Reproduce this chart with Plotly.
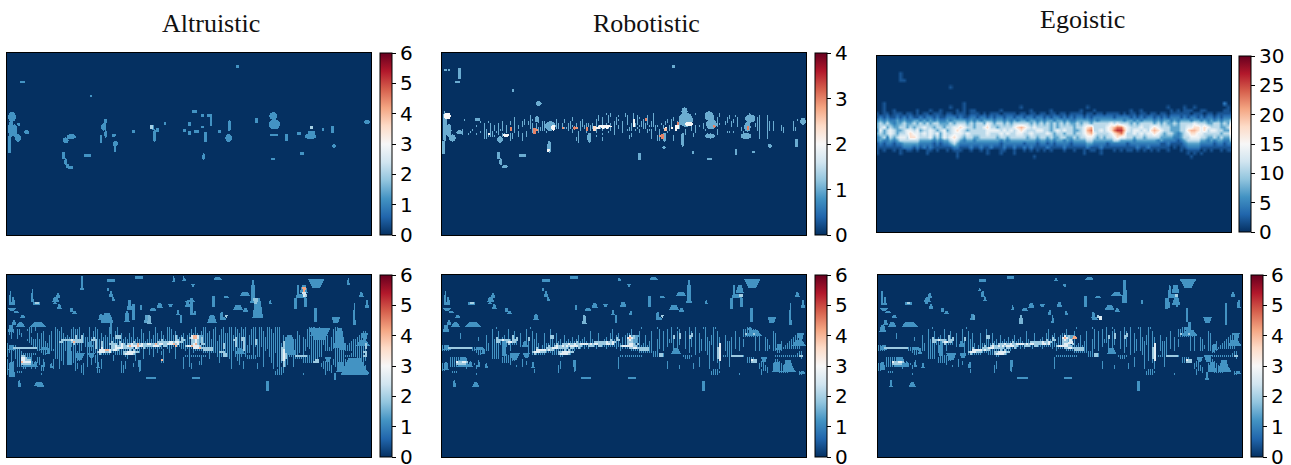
import numpy as np
import plotly.graph_objects as go

TITLES = ["Altruistic", "Robotistic", "Egoistic"]
TICKS_A = [0, 1, 2, 3, 4, 5, 6]
TICKS_R = [0, 1, 2, 3, 4]
TICKS_E = [0, 5, 10, 15, 20, 25, 30]

# Patches: x0, x1, y0, y1, value (axis units)
ALTRUISTIC_TOP = [
 (24,46,338,365,1.2),(24,40,365,410,1.2),(36,50,375,410,1.2),(44,62,405,425,1.2),(24,30,410,460,1.2),
 (50,60,370,378,1.2),(72,86,392,404,1.2),(62,72,246,250,1.2),(270,275,287,291,1.2),(710,716,197,204,1.2),
 (188,204,414,430,1.2),(200,226,404,418,1.2),(188,192,460,478,1.2),(192,200,476,496,1.2),(200,206,496,504,1.2),
 (206,218,502,506,1.2),(252,272,465,470,1.2),(302,318,372,392,1.2),(310,320,358,372,1.2),(312,320,392,414,1.2),
 (298,306,406,430,1.2),(334,346,402,412,1.2),(338,352,425,440,1.2),(340,348,440,458,1.2),(396,402,393,398,1.2),
 (452,462,376,390,1.2),(458,468,390,426,1.2),(470,476,388,396,1.2),(492,497,370,376,1.2),(576,588,334,339,1.2),
 (550,556,390,395,1.2),(564,570,395,406,1.2),(566,570,370,378,1.2),(584,594,393,398,1.2),(602,610,378,386,1.2),
 (604,610,344,350,1.2),(622,634,346,352,1.2),(628,636,352,380,1.2),(614,620,400,425,1.2),(656,660,392,398,1.2),
 (682,692,362,394,1.2),(676,694,404,426,1.2),(606,614,462,480,1.2),(766,772,358,370,1.2),(808,830,338,360,1.2),
 (806,838,360,388,1.2),(810,834,402,410,1.2),(856,862,404,424,1.2),(812,824,474,482,1.2),(892,902,400,406,1.2),
 (914,946,402,418,1.2),(926,944,396,402,1.2),(930,938,380,388,1.2),(994,1000,380,400,1.2),(996,1006,432,446,1.2),
 (966,970,388,392,1.2),(1092,1108,360,374,1.2),(900,910,460,466,1.2),(452,458,378,386,2),(932,938,382,388,2),
]
ROBOTISTIC_TOP = [
 (24,36,338,425,1),(36,50,375,410,1),(44,62,405,425,1),(24,30,425,462,1),(28,48,340,358,2),(30,36,210,214,1),
 (42,46,210,214,1),(72,78,208,236,1),(62,74,246,250,1),(234,238,270,275,1),(304,320,305,318,1),(124,136,358,364,1),
 (66,84,392,404,1),(188,204,410,428,1),(205,222,402,412,2),(228,232,384,394,3),(296,302,388,402,3),(300,314,350,368,1),
 (332,362,366,392,1),(350,362,376,392,2),(338,350,425,458,1),(336,346,448,456,2),(416,424,380,390,3),(455,460,384,392,3),
 (458,470,400,428,1),(478,484,380,392,2.4),(490,530,376,384,2),(630,634,356,364,3),(688,692,386,392,2.6),(680,692,400,425,1),
 (678,684,406,416,3),(726,730,370,376,3),(730,770,340,380,1),(738,755,324,345,1),(750,772,366,380,2),(736,746,400,440,1),
 (808,832,336,362,1),(812,842,360,388,1),(832,840,376,384,3),(810,838,402,416,1),(930,958,345,368,1),(926,944,368,395,1),
 (936,940,380,390,3),(916,946,400,418,1),(996,1008,432,444,1),(1080,1086,420,440,1),(1094,1110,355,374,1),(610,616,462,480,1),
 (815,828,474,482,1),(770,775,456,462,1),(680,690,440,448,1),(712,716,197,204,1),(254,274,465,470,1),(190,194,458,478,1),
 (194,202,476,496,1),(202,218,496,506,1),(950,956,455,460,1),(900,904,450,465,1),
]
# Fine texture of the Robotistic band, one row per six axis units downward from its top
ROBOTISTIC_TOP_Y = 340
ROBOTISTIC_ROWS = [
 "0000000000 0000000000 0000000000 0000000000 0000000000 0000000000 0000000000 0000000000 0010100000 0100010000 0000010000 0000000000 0000001000 0000000010 0000000000 0001000000 0000000000 0000000000",
 "0000000000 0000000000 0000000000 0000000000 0000100000 0000000000 0000000000 0000000010 0001100010 0110010100 0010010000 0000000000 0000000000 0000010010 0001001000 0010000010 0010000000 0000000000",
 "0000000000 0000000000 0000000000 0000001000 0000100010 0000000000 0000010000 0000000010 1001000100 0010010110 0010010000 0000010000 0010000000 0001010100 0011000100 0010000110 0010000000 0000000000",
 "0000000000 0100000000 0000000000 0000001000 0100110010 0000000100 0100010000 1000000110 1001000110 0010020100 1010010000 0010110000 0010000000 0001110100 0010010100 0010000110 0010000000 0000000100",
 "0000000000 0000000001 0001000000 1000101000 1101100010 1100000100 0100100001 1000000100 1001001100 1010020101 1010110000 0110100100 0000000000 0001010100 0110110100 0011000110 0011010000 0000010000",
 "0000000000 0000000000 0100100010 1000101000 1101110100 1101001110 1001100101 1011010100 1010101100 1010121101 1110110001 0100100110 0000100000 1001010110 0100100100 0011001110 0011010000 0000010000",
 "0010000000 0000000100 0100101010 1010001010 1000110100 1111011110 1001110101 1111110111 0110101010 1000121011 1101111100 1001102210 0010101010 1011010100 0000100100 0011001110 0011010001 0000010000",
 "0110000000 0000000000 0100101010 1010101010 0000110111 1111001110 3111100301 0130110221 2121101010 1001100100 1100001000 1201202210 0000101000 1001010000 0000000001 0011000110 0011010001 1000011000",
 "0101000000 1000010000 0110101011 1010101000 0000010311 1101000000 0001010001 0010100100 1000101000 1011101010 0011101010 0001002000 0100101000 0100000100 0000000001 0011000110 0011010001 1000011000",
 "0110000000 0000100001 0110110110 0010001010 0010013010 0010000000 0000010010 0010000100 0001001000 1000000010 0010100010 0010000000 0100001000 0000000100 0011010000 1000000010 0010000000 1000000000",
 "0010000000 1001000100 0112110010 1100110010 1010000000 0000000000 0000000010 0000000000 1000001000 0000100000 0000100010 0000000000 0100010000 0010000100 0000000000 0000000010 0010000000 0000000000",
 "0001000000 0000000000 0111111000 1100110010 1010000000 0000000000 0000000010 0000000100 0000000000 0001100000 0000100130 0000010000 0000010000 0000000000 0000000000 0000000010 0010000000 0000000000",
 "0000000000 0000000000 0110000000 0000110000 1000000000 0000000000 0000000110 0000000000 1000000000 0001000000 0000100110 0000010000 0000000000 0000000000 0000000000 0000000010 0010000000 0000000000",
 "0000000000 0000000000 0000000000 0000100000 1000000000 0000000000 0000000110 0000000000 1000000000 0000000000 0000000110 0000010000 0000000000 0000000000 0000000000 0000000000 0000000000 0000000000",
 "0000000000 0000000000 0000000000 0000000000 0000000000 0000000000 0000000010 0000000000 0000000000 0000000000 0000000000 0000000000 0000000000 0000000000 0000000000 0000000000 0000000000 0000000000",
]
ROBOTISTIC_VALUES = [0, 1, 2, 2.9, 3.2]
# Shared by all three lower panels (x as in the middle panel)
LOWER_COMMON = [
 (28,36,78,120,1.2),(36,46,95,120,1.2),(25,50,130,137,1.2),(40,60,137,145,1.2),(60,78,150,160,1.2),(36,50,165,180,1.2),
 (50,75,172,185,1.2),(90,140,170,186,1.2),(102,120,112,118,1.2),(108,116,113,117,2),(158,178,95,110,1.2),
 (168,182,85,100,1.2),(160,172,110,118,1.2),(172,186,118,132,1.2),(212,218,130,140,1.2),(218,232,138,146,1.2),(296,312,148,165,1.2),
 (324,344,44,50,1.2),(320,330,70,78,1.2),(328,340,78,95,1.2),(336,346,95,108,1.2),(408,428,34,40,1.2),(548,560,40,48,1.2),
 (640,668,36,46,1.2),(420,428,120,135,1.2),(450,470,128,138,1.2),(470,490,115,130,1.2),(505,520,118,126,1.2),(442,456,150,178,1.6),
 (530,540,135,150,1.2),(540,548,150,175,1.2),(556,572,112,126,1.2),(575,585,58,66,1.2),(580,590,138,150,1.2),(640,646,95,125,1.2),
 (660,672,140,160,1.2),(670,690,92,100,1.2),(660,680,155,165,1.2),(675,685,150,158,2),(700,730,120,135,1.2),(730,745,130,140,1.2),
 (720,752,80,92,1.2),(752,768,45,115,1.2),(808,816,105,118,1.2),(890,900,60,95,1.2),(900,925,60,85,1.2),(925,975,42,68,1.2),
 (890,920,88,98,1.2),(912,920,90,96,2),(884,890,100,130,1.2),(915,920,100,125,1.2),(1060,1068,115,180,1.2),(1096,1108,105,130,1.2),
 (1078,1092,82,95,1.2),(995,1022,155,175,1.2),(945,950,130,170,1.2),(26,48,240,254,1.2),(120,150,245,256,1.2),
 (140,152,250,268,1.2),(26,42,290,316,1.2),(68,104,275,305,1.2),(100,114,290,305,1.2),
 (128,136,285,305,1.2),(150,160,295,310,1.2),(54,64,346,366,1.2),(112,134,352,366,1.2),(202,216,222,272,1.2),
 (262,280,228,246,1.2),(225,255,265,284,1.2),(265,285,265,280,1.2),(290,300,290,308,1.2),
 (585,610,210,235,1.4),(706,736,250,268,1.2),(930,980,196,214,1.2),(936,950,185,196,1.2),
 (975,995,275,290,1.2),(1020,1040,238,256,1.2),(1070,1110,225,242,1.2),(1085,1105,205,225,1.2),
 (1040,1075,285,320,1.2),(1010,1035,290,320,1.2),(1060,1080,310,320,1.2),(1090,1110,318,328,1.2),(415,425,285,322,1.2),
 (440,468,338,342,1.2),(580,600,338,342,1.2),(800,806,350,376,1.2),(24,44,180,200,1.2),
]
ALTRUISTIC_EXTRA = [
 (240,250,33,76,1.2),(516,524,33,52,1.2),(546,554,33,48,1.2),(92,100,72,110,1.2),(756,788,98,158,1.2),(757,775,98,118,1.8),
 (905,918,65,80,4.2),(905,918,80,96,2.5),(398,402,120,165,1.2),(372,388,138,172,1.2),(570,576,100,150,1.2),(552,588,104,112,1.2),
 (26,44,290,335,1.2),(300,340,145,175,1.2),(380,395,105,135,1.2),(330,335,175,205,1.2),(430,450,150,175,1.4),(620,650,150,175,1.2),
 (1040,1048,40,60,1.2),(200,214,222,300,1.2),(100,130,352,362,1.2),(1000,1008,325,345,1.2),(925,990,190,225,1.2),(1000,1035,190,250,1.2),
 (1020,1105,280,330,1.2),(850,885,210,270,1.2),
]
EGOISTIC_EXTRA = [
 (620,636,212,222,4.2),(608,624,222,236,2.6),(704,708,155,165,2.6),(322,330,150,165,1.4),(462,470,150,176,1.6),
 (900,915,100,130,1.2),(920,945,95,120,1.2),(1015,1040,270,290,1.2),(1040,1048,240,260,1.2),(1020,1030,320,345,1.2),
 (435,442,285,320,1.2),(964,980,170,210,1.2),
]
BAND_VALUES = [0, 1.2, 1.9, 2.7, 4]
BAND_TOP = 186
# Fine band texture of the lower panels, one row per six axis units downward
BAND_ROWS_COMMON = [
 "0000000000 0000000000 0000000100 0000000000 0000100000 0000000000 0000000000 0000000000 0000000000 0000000001 0000000100 0000100100 0001001000 1100011000 0000000000 0011000000 0000000000 0000000000",
 "0000000000 0000000000 0000010000 0001000000 0010000000 0000100000 0000000000 0000000000 0000010000 0000100000 0000000010 0010100010 0001001000 0100010000 0000000000 1111111000 0000000000 0000000000",
 "0000000000 0000000000 0000010010 0001001000 0010010000 0000100000 0000000000 0000100000 0000010000 0000100010 0000100010 1010100110 0101101000 0100010100 0000001000 1111111000 0000010000 0000000000",
 "0000000001 0000000000 0000010010 0001001001 0010010100 0100100100 0000000000 0000100010 0000110010 0011100010 0000100010 1010100120 0101201010 0100010100 0000001000 1211121110 0000011000 0000000100",
 "0000000001 0000000000 0010010010 0101021001 0010010100 0100220100 0100000010 0000100010 0000110110 0113120010 0100100010 1010120120 0102201010 0100110100 0100001000 1111111110 0000011000 0000001100",
 "0000000001 0000000010 0010010210 1101021201 0012010100 0100220100 0100010010 0100100010 0010110210 1134320110 0100100010 1010120120 0102101010 0110110110 0100101010 0000001010 0100011000 0000011100",
 "0000000000 0000000010 0010011222 3222122201 0012011100 0100110101 0101010110 1100110010 0110211220 1123210110 0100100110 1011110110 0101101011 0110110110 0100101010 1000001010 0110011000 0000111110",
 "0000000000 0000000000 0010011221 1123322101 0011011100 0100110111 0111111211 1110112222 2232232110 1122210110 0101100110 1011110110 0101101011 0111110110 0111101010 1000001010 0110011001 0001111110",
 "0000000000 0000000000 0011011111 1112111101 0011011110 0111111211 2223223223 3332323322 2233231111 1123321210 1101100110 1010010110 0101101011 0111110130 0111101010 1000001010 0110011001 0011111110",
 "1100000000 0000000000 0011011110 1110100001 0001011110 1112112322 3232333322 1112221122 1111111112 3333322111 1111100110 1010010100 0101101011 0111010130 0111101010 1000001010 0111011111 0111111110",
 "1112222222 2222211100 1011011110 1100100000 0001011210 1122233322 2221221121 0101000100 0010000101 1112233222 2221100110 1000010100 0101001011 0111010230 0111101010 0000001010 0111011111 1111111110",
 "1111000000 0000011111 1111011110 1100100000 0001011333 3323221111 1212111000 0000000000 0000000001 0000111122 2221100100 1000010100 0001001011 0111010230 0111100010 0000001010 0110011111 0000000000",
 "0000000000 0000000111 0000011110 1100000000 0001023332 2211111122 3333220000 0000000000 0000000000 0000000011 1111111100 0000000100 0001001010 0011010230 0011100000 0000000000 0000000110 0000000011",
 "0000000000 0000000011 0000011110 0000000000 0000012111 1100011123 3332100000 0000000000 0000000000 0000000000 0000011122 1000000000 0000001000 0011010230 0011100000 0000000000 0000000000 0000000111",
 "0000000000 0000000000 0000011110 0111110000 0000000000 0000000001 1000000000 0000000000 0000000001 1111111111 0000011122 1000000000 1111100000 0001010230 1111222222 1000000000 0000001111 1111111122",
 "0000111111 0000000000 0000011110 1111111000 0000000000 0000000000 0000000000 0000000000 0000000010 0000000000 0000000000 0000000000 0111000010 0001010230 0001000000 0011110000 0000000000 0000000001",
 "0000111111 0000000000 0000000000 1111111000 1000000000 0000000000 0000000000 0000000000 0000000010 0000000000 0000000000 0000000000 0000000010 0001010130 0001000000 0011322000 0000001100 0000000000",
 "0000111322 3320100000 0000000000 1111100000 1010000000 0000000001 0000000000 0000000000 0000000010 0000000000 0000000000 0010000000 0000000010 0001000110 0001000000 0011222001 1000001110 0011000000",
 "1100111222 2210101000 0000000000 0000100000 1010000000 0000000001 0000000000 0000000000 0000000010 0000000000 0000000000 0010000000 0000010010 0001000010 0001000000 0000000011 1000011111 0011000000",
 "1100111111 1110100100 0000000000 0000000100 1000000000 0000000011 0000000000 0000000000 0000000010 0000000000 0000000000 0010000010 0000010010 0001000010 0001000000 0000000011 1100011111 1111000000",
 "1100000000 0010000100 0000000000 0000000000 0000000000 0000000011 0000000000 0000000000 0000000010 0000000000 0000000000 0010000010 0000010000 0001000010 0000000000 0000000010 1110011111 1111000000",
 "1100000000 0000000000 0000000000 0000000000 0000001000 0000000010 0000000000 0000000000 0000000000 0000000000 0000000000 0000000000 0000000000 0000011100 0000000000 0000000001 1110001111 1111100000",
 "0000011100 0000000000 0000000000 0000000000 0000001000 0000000010 0000000000 0000000000 0000000000 0000000000 0000000000 0000000000 0000000000 0000111110 0000000000 0000000001 0010000011 1110000011",
 "0000000000 0000000100 0000000000 0000000000 0000000000 0000000000 0000000000 0000000000 0000000000 0000000000 0000000000 0000000000 0000000000 0000111100 0000000010 0000000001 0000000000 0000000011",
]
BAND_ROWS_ALTRUISTIC = [
 "0010000000 0110100000 0000100100 0001001000 0100100000 0100010000 0001000000 0000100000 1100000000 0000100011 0000100010 0110100101 0001101100 1100111000 0000000000 0111001000 0000110000 0000000000",
 "0110011000 1110100000 0000110100 0011111000 0100110000 0100010000 0001000100 0000100000 1110000000 0010100011 0001100110 0110110111 0011101100 1110111000 0000000000 1111101000 0001110000 0000000000",
 "0111011000 0110000010 0010111100 0011111000 0101110000 0110110000 0001000100 0100100100 1110100000 0010100111 0101100110 0110110111 0011101110 1110111000 0000010000 1111111000 0001110000 0000000011",
 "0110011100 0100010110 0010111110 0011111010 0101110100 0110110100 0101000110 0100110100 1110100010 0111110111 1101100111 1110111111 0011101110 1111111000 0000010000 1111111110 0001111000 0000000111",
 "0010010100 0100010110 0110111110 1011211210 0101110101 0110222100 0101000110 0101110110 1111210110 1134431111 1101101111 1111111111 0111101110 1111111010 0100011000 1111111110 1001111000 0000001111",
 "0010010000 0110010110 0110111111 1111211211 1112110111 1111222101 0111010110 0101110110 1111211210 1234431211 1101101111 1111211221 0111101111 1111111011 0100011010 1111111111 1011111100 0000011111",
 "0000000000 1111111110 0110111222 2232222211 1122211111 1111111111 1111111110 1111111211 1111221221 1122321211 1111101111 1112211221 0111211111 1111111011 1101111011 1111111111 1011111100 0001111111",
 "0000000000 0111111111 0110112211 1124222211 1111211211 1121112111 1112111111 1111122222 2332332211 1122321211 1111111111 1111211121 0111211111 1111111021 1101111011 1111111111 1011111100 0011111111",
 "1000000000 0011111111 1110111111 1112111101 1111211211 1222212321 2232242322 3322423322 3334231111 1123421221 1111111121 1111211121 0111211111 1111111121 1101111011 1111111111 1011111101 0111111112",
 "1100100000 0001111111 1110111111 1111101101 1111211211 1122322322 3433343322 2223332122 1111411112 3343332111 1111111121 1111211121 1101111111 1111111121 1101111011 1111111101 1011111111 1111111112",
 "1112222222 2222211110 1110111111 1101101100 1111211311 1122333322 2221321121 1111111100 1110100111 1113334222 2221111121 1111111121 1101011011 1111111221 1101111011 0111111101 1111111111 1111111112",
 "1111111000 0000011111 1111111111 1101101100 1111113334 4323321111 1212111010 0101010010 0100100001 0101111122 2221111111 1111111121 1101011011 0111111231 1101111011 0011111101 1110111111 1111111111",
 "1110111100 0000000111 0000111110 1111111000 1101123332 2311111122 3333221010 0101010110 0100100000 0101000011 1111112221 1110111111 1101011010 0111111231 1101111010 0011111100 0000111110 0001111122",
 "1010111111 1111100011 0000111110 1111111000 1100012111 1100111123 3332100010 0101000110 0000100000 0100000000 0100011122 1110111101 0001011010 0111011232 1101110010 0011111100 0000111110 0011111112",
 "1010111221 1110000000 0000111110 1111111100 1110110000 0001000001 1000100010 0001000010 0000100001 1111111111 0100011122 1110111101 1111111010 0111011232 1111222222 1111111100 0000111111 1111111122",
 "0010111332 1110011000 0000111110 1111111100 1010110000 0001000000 1000100010 0000000010 0000100010 0100000100 0100001000 0110011000 1111100010 0011011232 1001111111 1111110000 0000111110 0000011111",
 "1010011332 2210011010 0001001110 1111111000 1010110100 0001000000 0000100000 0000000410 0000000010 0100000100 0000001000 0010011000 0000000010 0011011231 1001000011 1111220000 0001111111 0000011111",
 "1011011433 3310111010 0001001010 1111100000 1010110100 0000000101 0000000000 0000000110 0000000010 0100001100 0000001000 0010001010 0000000010 0011011121 1001000011 1112220011 1101111111 0111111110",
 "1100011222 2210101010 0001001010 0000110010 1010010100 0000000101 0001000000 0000000000 0000000010 0110001100 0000000000 0010001010 0000010010 0001011021 1001000000 0000000111 1101111111 1111111110",
 "1100011111 1110100110 0001001000 0000110110 1000010100 0000000111 0001000000 0000000000 0000000010 0110000000 0000000000 0010000010 0000010010 0001011021 0001000000 0000000111 1110111111 1111111111",
 "1100000011 0010100110 0001001000 0000110110 0000010100 0000000111 0000000000 0000000000 0000000010 0010000000 0000000000 0010000010 0000010000 0001001110 0000000000 0000000011 1110011111 1111111111",
 "1100000000 0000000110 0000000000 0000100110 0000011000 0000000110 0000000000 0000000000 0000000000 0000000000 0000000000 0000000000 0000000000 0000011110 0000000000 0000000001 1110001111 1111111111",
 "1100011100 0000000000 0000000000 0000000110 0000011000 0000000110 0000000000 0000000000 0000000000 0000000000 0000000000 0000000000 0000000000 0000111110 0000000000 0000000001 0010000011 1111000011",
 "1100000000 0000000100 0000000000 0000000010 0000000000 0000000000 0000000000 0000000000 0000000000 0000000000 0000000000 0000000000 0000000000 0000111100 0000000010 0000000001 0000000000 0000000011",
]
ROW_POS = list(range(170, 700, 10))
EGOISTIC_ROWS = {
 220:"0000000100", 230:"0000000100", 240:"0000000110", 260:"0000000000 0000000000 0010",
 310:"0010000000 0000000000 0000001000 0000000000 0000000000 0000000000 0000000000 0000000000 0000000000 0000000000 0000200",
 320:"0010000000 0000000000 0010001000 0000000000 0001000000 0000000000 0001000000 0000000000 0000000100 0010010000 0000010",
 330:"0010010000 0010001001 0000101011 0000000100 0000001000 0010000000 0100010000 0000001001 0000000010 1011100110 0000110",
 340:"1011011101 1010110111 0110111011 1010111011 1101101101 1011011011 1101101101 1110101101 1011011011 1111011101 1011111",
 350:"1212112121 2112122121 1222121122 1221212212 2122122122 1212212121 2212122222 2122221212 1221212122 2121221212 2121222",
 360:"2323223232 2332323232 2323333232 3233323323 2323323323 2332332322 3333232333 3333233232 3332323323 2333233232 3232334",
 370:"3434323343 3434343443 3343444343 4435434434 3444443434 3434343433 4344344444 5454443434 4443434334 3444454443 3443436",
 380:"3453433443 4344544344 3445565443 4456443444 4567654544 4434344443 4456744445 6788654445 4456544433 3445566565 4443347",
 390:"2534543345 5453445434 5345654344 4445555454 5456544455 4434545443 3457844545 6899754554 5467654433 3446776564 5544337",
 400:"3434543445 6554545453 5445554544 4445444545 4455445444 4543443443 4456754444 5678644545 4556543443 2345665544 4443446",
 410:"2342434554 6654445343 5456543443 3444443443 4444434434 4343344334 3445543434 4565544344 3444433332 2344555443 3434335",
 420:"2322323444 4443333232 3345432332 3333333232 3333333323 3232332323 3334433333 3443333233 3333232222 1234444332 3233224",
 430:"1212212233 3332222121 2234322222 2222222122 2222122212 2121222212 2223322221 2222212222 2222211211 1123333222 2122122",
 440:"1111111122 2121212111 1112211121 1211211121 1211212111 1211112111 1112111211 1111111121 1211111101 0112222111 1111111",
 450:"1010010101 1010011010 0101110010 0101000110 0100101010 1010001001 0010110100 0101011010 1010100100 0101111010 1001011",
 460:"1000000100 0000010000 0000100000 0001000100 0100000000 0000000000 0010000100 0000000000 0000000000 0001010100 0000000",
 470:"0000000000 0000000000 0000100000 0000000000 0000000100 0000000000 0000000000 0000000000 0000000000 0000100000 0000000",
}
EGOISTIC_LEVELS = [0, 2, 4.5, 7, 11, 14, 17.5, 20, 23, 26]

WIDTH, HEIGHT = 1291, 480
RDBU_R = [[0.0,"#053061"],[0.1,"#2166ac"],[0.2,"#4393c3"],[0.3,"#92c5de"],[0.4,"#d1e5f0"],[0.5,"#f7f7f7"],
          [0.6,"#fddbc7"],[0.7,"#f4a582"],[0.8,"#d6604d"],[0.9,"#b2182b"],[1.0,"#67001f"]]
CELL = 3


def patches_to_grid(patches, xr, yr, round_shapes=False, band=None):
    xs = np.arange(xr[0] + CELL / 2, xr[1], CELL)
    ys = np.arange(yr[0] + CELL / 2, yr[1], CELL)
    z = np.zeros((len(ys), len(xs)))
    X, Y = np.meshgrid(xs, ys)
    for layer, dx in patches:
        for x0, x1, y0, y1, v in layer:
            x0, x1 = x0 + dx, x1 + dx
            w, h = x1 - x0, y1 - y0
            if w < 7 or h < 7:
                mask = (X >= x0 - 1.5) & (X < x1 + 1.5) & (Y >= y0 - 1.5) & (Y < y1 + 1.5)
            elif round_shapes:
                mask = ((X - (x0 + x1) / 2) / (w / 2)) ** 2 + ((Y - (y0 + y1) / 2) / (h / 2)) ** 2 <= 1.15
            else:
                t = np.clip((Y - y0) / h, 0, 1)
                t = t if int(x0) % 2 == 0 else 1 - t
                half = (0.45 + 0.55 * t) * w / 2
                mask = (np.abs(X - (x0 + x1) / 2) <= half) & (Y >= y0) & (Y <= y1)
            z[mask] = np.maximum(z[mask], v)
    if band is not None:
        rows, top, values = band
        for r, row in enumerate(rows):
            row = row.replace(" ", "")
            for c, ch in enumerate(row):
                if ch != "0":
                    a = xr[0] + 6 * c
                    # faint slivers stay one grid cell wide; bright specks take two
                    span = 3 if ch == "1" else 6
                    mask = (X >= a) & (X < a + span) & (Y >= top + 6 * r) & (Y < top + 6 * r + 6)
                    z[mask] = np.maximum(z[mask], values[int(ch)])
    return xs, ys, z


fig = go.Figure()

panels = [
 ((7,371,53,235),(20,1112),(160,705),[(ALTRUISTIC_TOP,0)],6,TICKS_A,380,True,None),
 ((442,806,53,235),(22,1112),(160,705),[(ROBOTISTIC_TOP,0)],4,TICKS_R,815,True,(ROBOTISTIC_ROWS,ROBOTISTIC_TOP_Y,ROBOTISTIC_VALUES)),
 ((7,371,275,457),(20,1112),(30,575),[(LOWER_COMMON,-2),(ALTRUISTIC_EXTRA,0)],6,TICKS_A,380,False,(BAND_ROWS_ALTRUISTIC,BAND_TOP,BAND_VALUES)),
 ((442,806,275,457),(22,1112),(30,575),[(LOWER_COMMON,0)],6,TICKS_A,815,False,(BAND_ROWS_COMMON,BAND_TOP,BAND_VALUES)),
 ((878,1242,275,457),(38,1130),(30,575),[(LOWER_COMMON,18),(EGOISTIC_EXTRA,0)],6,TICKS_A,1251,False,(BAND_ROWS_COMMON,BAND_TOP,BAND_VALUES)),
]


def add_panel(i, box, xr, yr, x, y, z, zmax, ticks, cbx, smooth):
    name = "" if i == 0 else str(i + 1)
    fig.add_trace(go.Heatmap(
        x=x, y=y, z=z, zmin=0, zmax=zmax, colorscale=RDBU_R, zsmooth=smooth,
        xaxis="x" + name, yaxis="y" + name, hoverinfo="skip",
        colorbar=dict(
            x=cbx / WIDTH, xanchor="left", xpad=0, y=1 - box[3] / HEIGHT, yanchor="bottom", ypad=0,
            len=(box[3] - box[2]) / HEIGHT, lenmode="fraction", thickness=12, thicknessmode="pixels",
            tickmode="array", tickvals=ticks, ticktext=[str(t) for t in ticks], ticks="outside", ticklen=4,
            tickwidth=1, tickcolor="black", outlinewidth=1, outlinecolor="black",
            tickfont=dict(family="DejaVu Sans", size=20, color="black"),
        ),
    ))
    axis = dict(showticklabels=False, ticks="", showgrid=False, zeroline=False, showline=True,
                linecolor="black", linewidth=1, mirror=True)
    fig.layout["xaxis" + name] = dict(axis, domain=[box[0] / WIDTH, box[1] / WIDTH], range=list(xr),
                                      anchor="y" + name)
    fig.layout["yaxis" + name] = dict(axis, domain=[1 - box[3] / HEIGHT, 1 - box[2] / HEIGHT],
                                      range=[yr[1], yr[0]], anchor="x" + name)


for i, (box, xr, yr, layers, zmax, ticks, cbx, rnd, band) in enumerate(panels):
    xs, ys, z = patches_to_grid(layers, xr, yr, rnd, band)
    add_panel(i, box, xr, yr, xs, ys, z, zmax, ticks, cbx, False)

# Egoistic top panel: smooth grid
ego_x = [37 + 10 * k for k in range(107)]
ego_z = []
for yv in ROW_POS:
    row = EGOISTIC_ROWS.get(yv, "0").replace(" ", "").ljust(107, "0")[:107]
    ego_z.append([EGOISTIC_LEVELS[int(c)] for c in row])
add_panel(5, (877,1231,56,232), (37,1097), (168,697), ego_x, ROW_POS, ego_z, 30, TICKS_E, 1239, "best")

for text, cx, cy in zip(TITLES, [211, 646, 1082], [23, 23, 20]):
    fig.add_annotation(text=text, xref="paper", yref="paper", x=cx / WIDTH, y=1 - cy / HEIGHT,
                       xanchor="center", yanchor="middle", showarrow=False,
                       font=dict(family="Liberation Serif", size=26, color="#111111"))

fig.update_layout(width=WIDTH, height=HEIGHT, margin=dict(l=0, r=0, t=0, b=0, autoexpand=False),
                  paper_bgcolor="white", plot_bgcolor="#053061", showlegend=False)
fig.write_html("out.html", config={"displayModeBar": False},
               post_script="document.body.style.margin='0';document.body.style.overflow='hidden';document.documentElement.style.overflow='hidden';")
